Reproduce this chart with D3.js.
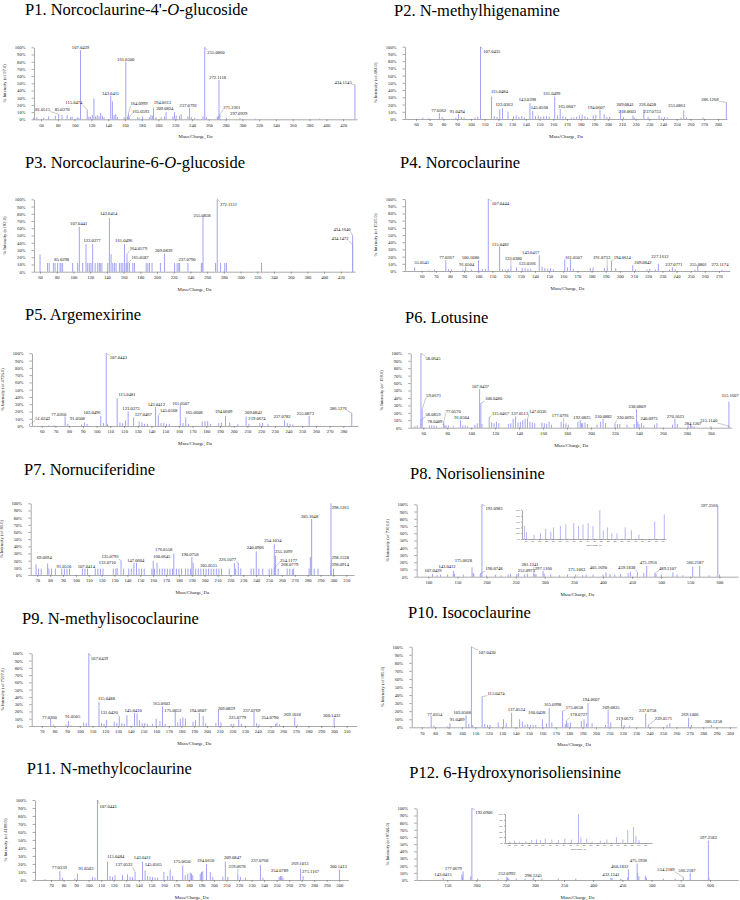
<!DOCTYPE html>
<html><head><meta charset="utf-8">
<script src="https://cdn.jsdelivr.net/npm/d3@7"></script>
<style>body{margin:0;background:#fff}</style>
</head><body>
<svg id="c" width="740" height="900"></svg>
<script>
// ---------------- DATA ----------------
const titles = [
  "P1. Norcoclaurine-4'-<i>O</i>-glucoside", "P2. N-methylhigenamine",
  "P3. Norcoclaurine-6-<i>O</i>-glucoside", "P4. Norcoclaurine",
  "P5. Argemexirine", "P6. Lotusine",
  "P7. Nornuciferidine", "P8. Norisoliensinine",
  "P9. N-methylisococlaurine", "P10. Isococlaurine",
  "P11. N-methylcoclaurine", "P12. 6-Hydroxynorisoliensinine"
];
const yTitles = [
  "% Intensity (of 97.0)", "% Intensity (of 484.0)", "% Intensity (of 82.0)", "% Intensity (of 1515.0)",
  "% Intensity (of 4726.0)", "% Intensity (of 158.0)", "% Intensity (of 81.0)", "% Intensity (of 7301.0)",
  "% Intensity (of 7597.0)", "% Intensity (of 985.0)", "% Intensity (of 4188.0)", "% Intensity (of 8566.0)"
];
const xTitle = "Mass/Charge, Da";
const yTickValues = [0,10,20,30,40,50,60,70,80,90,100];

const domains = [
  [51.6,436.6],[52,286.6],[52.8,437],[48.2,277.8],[52.9,290.7],[49.5,317.5],
  [64.9,316],[80,632],[62.1,317.9],[62.5,305],[57.2,307.2],[97.6,648.5]
];
const xTicks = [
  [60,80,100,120,140,160,180,200,220,240,260,280,300,320,340,360,380,400,420],
  [60,70,80,90,100,110,120,130,140,150,160,170,180,190,200,210,220,230,240,250,260,270,280],
  [60,80,100,120,140,160,180,200,220,240,260,280,300,320,340,360,380,400,420],
  [60,70,80,90,100,110,120,130,140,150,160,170,180,190,200,210,220,230,240,250,260,270],
  [60,70,80,90,100,110,120,130,140,150,160,170,180,190,200,210,220,230,240,250,260,270,280],
  [60,80,100,120,140,160,180,200,220,240,260,280,300],
  [70,80,90,100,110,120,130,140,150,160,170,180,190,200,210,220,230,240,250,260,270,280,290,300,310],
  [100,150,200,250,300,350,400,450,500,550,600],
  [70,80,90,100,110,120,130,140,150,160,170,180,190,200,210,220,230,240,250,260,270,280,290,300,310],
  [70,80,90,100,110,120,130,140,150,160,170,180,190,200,210,220,230,240,250,260,270,280,290,300],
  [70,80,90,100,110,120,130,140,150,160,170,180,190,200,210,220,230,240,250,260,270,280,290,300],
  [150,200,250,300,350,400,450,500,550,600]
];

// peaks: [m/z, % intensity]
const p1Peaks = [[51.0,2],[55.05,3],[63.02,2],[69.03,4],[77.04,5],[81.05,7],[85.03,6],[91.05,6],[95.05,3],[97.03,4],[103.05,3],[105.07,2],[107.04,96],[115.05,13],[117.07,4],[119.05,3],[121.07,6],[123.04,29],[125.06,4],[127.04,6],[129.07,4],[131.05,9],[133.06,5],[135.04,3],[143.04,33],[145.06,25],[147.04,6],[149.06,7],[151.04,3],[159.03,3],[161.05,80],[163.04,4],[164.10,8],[165.06,3],[175.08,3],[177.05,2],[181.07,4],[189.08,3],[191.07,6],[193.05,5],[194.06,16],[197.08,3],[203.06,3],[207.07,4],[209.08,10],[217.07,4],[219.07,10],[221.08,5],[225.06,5],[227.07,7],[235.06,4],[237.08,16],[239.09,3],[243.1,2],[253.07,4],[255.09,100],[257.1,3],[270.1,4],[271.24,3],[272.11,55],[273.12,6],[281.1,2],[297.09,2],[315.1,1],[392.2,1],[434.15,48]];
const p1Labels = [["81.0515",62,13.9],["85.0270",85.1,13],["107.0439",107,100],["115.0474",99.1,23.6],["143.0411",142.9,36],["161.0500",160.9,83],["164.0999",176.8,21.3],["165.0593",178.8,11.1],["194.0613",204.7,23],["209.0824",207.5,14.8],["237.0792",235.4,19.4],["255.0860",268.5,93],["272.1118",270.5,57.9],["271.2361",287.3,16.7],["297.0929",295.6,8.3],["434.1545",420,51.4]];

const p2Peaks = [[65.04,2],[69.03,1],[77.04,8],[79.05,3],[89.04,2],[91.05,7],[93.07,3],[95.05,2],[103.05,2],[105.07,3],[107.04,100],[115.05,31],[117.06,4],[119.05,3],[121.06,13],[123.04,15],[127.04,10],[131.05,4],[133.06,5],[135.04,3],[137.06,4],[139.05,2],[143.04,22],[145.06,11],[147.04,4],[149.06,5],[151.04,3],[153.07,4],[155.05,4],[157.06,3],[161.05,31],[163.04,5],[165.06,14],[167.07,4],[169.06,3],[173.06,2],[175.08,2],[177.05,3],[179.07,5],[181.07,6],[183.08,4],[185.06,2],[189.08,5],[191.07,6],[194.06,13],[197.08,7],[199.08,3],[201.09,3],[209.08,12],[211.08,3],[218.06,5],[219.08,2],[226.05,13],[229.09,3],[237.08,5],[239.09,2],[241.09,3],[243.1,2],[253.09,2],[255.09,12],[257.1,2],[269.1,2],[286.13,23]];
const p2Labels = [["77.0362",76.5,12.4],["91.0494",90.1,10.6],["107.0435",115.2,93],["115.0484",120.8,38.7],["123.0363",124.2,20.7],["143.0398",141.2,27.2],["145.0568",149.9,16.1],["161.0499",158.9,34.6],["165.0607",169.9,17],["194.0607",191.3,16.1],["209.0841",212.4,19.4],["218.0603",213.9,11],["226.0458",228.7,20.3],["237.0753",232.1,11],["255.0861",250.1,18],["286.1268",274.1,27.6]];

const p3Peaks = [[60.02,24],[69.03,12],[71.05,12],[76.03,12],[78.05,12],[81.03,12],[84.04,12],[85.03,12],[87.04,12],[99.04,12],[105.04,12],[107.04,62],[111.04,12],[115.05,38],[117.06,12],[119.05,12],[121.06,12],[123.04,38],[126.05,12],[129.06,12],[131.05,12],[132.05,12],[134.06,12],[141.05,12],[143.04,74],[145.06,24],[147.04,12],[149.06,12],[151.04,12],[155.05,12],[157.06,12],[159.04,12],[161.05,38],[163.04,12],[164.06,24],[165.06,12],[167.07,12],[171.05,12],[173.06,12],[187.07,12],[189.08,12],[191.07,12],[194.06,12],[204.08,12],[209.08,25],[221.08,12],[224.07,12],[226.08,12],[227.09,12],[237.08,12],[253.09,12],[254.09,12],[255.09,76],[270.1,12],[272.11,100],[276.1,12],[281.1,12],[283.1,12],[325.1,12],[434.15,37],[434.16,50]];
const p3Labels = [["85.0298",85.9,17.5],["107.0441",106.3,65.9],["123.0377",122.3,42.9],["143.0414",142.2,79.7],["161.0496",160.2,42.9],["164.0579",177.7,32.3],["165.0587",179.7,19.8],["209.0839",208,29],["237.0790",236,17.5],["255.0858",253.9,78.3],["272.1131",285.5,93.5],["434.1640",421.5,58.5],["434.1472",419.1,46]];

const p4Peaks = [[55.05,5],[65.04,1],[69.03,2],[77.04,15],[79.05,3],[81.03,2],[89.04,2],[91.05,6],[95.05,2],[100.11,15],[103.05,3],[105.07,3],[107.04,100],[115.05,34],[117.06,2],[119.05,2],[121.06,3],[123.04,7],[127.04,5],[131.05,4],[133.06,4],[135.04,3],[137.06,3],[143.04,22],[145.06,6],[147.04,4],[149.06,3],[151.04,4],[153.07,2],[161.05,16],[163.04,5],[165.06,16],[167.07,3],[179.07,4],[181.07,5],[189.08,4],[191.07,5],[194.06,14],[197.08,4],[209.08,8],[211.08,2],[219.08,2],[221.08,3],[225.06,2],[227.16,10],[235.06,2],[237.08,5],[239.09,2],[253.09,2],[255.08,7],[272.12,2]];
const p4Labels = [["55.0541",60,11.6],["77.0367",77.7,19],["91.0504",91.8,9.7],["100.1080",94.4,19],["107.0444",115.6,94],["115.0482",115.6,37.5],["123.0380",124.7,18],["133.0566",134.6,10.6],["143.0417",137,25.5],["161.0507",167.3,19],["191.0733",187.1,19],["194.0614",201.7,19],["209.0842",216.3,11.6],["227.1612",228.3,19.9],["237.0771",238.2,9.7],["255.0801",255.4,9.7],["272.1174",270.7,9.7]];

const p5Peaks = [[51.02,2],[65.04,1],[69.03,1],[77.04,13],[79.05,3],[89.04,2],[91.05,5],[93.07,3],[103.05,14],[105.07,4],[107.04,100],[108.05,3],[115.05,38],[117.06,5],[119.05,4],[121.06,8],[123.04,20],[127.05,12],[131.05,6],[133.06,5],[135.04,3],[137.06,3],[143.04,26],[145.06,14],[147.04,4],[149.06,4],[151.04,3],[153.07,3],[161.05,29],[163.04,4],[165.06,12],[167.07,3],[177.05,6],[179.07,7],[181.07,7],[183.08,3],[189.08,4],[191.07,5],[194.06,14],[197.08,5],[203.06,3],[209.08,13],[211.08,3],[219.07,4],[221.08,4],[225.06,3],[237.08,8],[239.09,4],[241.09,3],[243.1,2],[255.09,14],[286.13,18]];
const p5Labels = [["51.0242",60.7,10.6],["77.0360",72.4,16.5],["91.0508",86,10.6],["103.0496",96.7,18.3],["107.0443",115.9,94],["115.0481",122.2,42.7],["123.0373",125.1,24.3],["127.0467",134.1,16.5],["143.0412",143.6,29.8],["145.0568",152.6,21.1],["161.0507",161.4,31.2],["165.0608",171.1,18.8],["194.0609",192.7,20.6],["209.0842",214.4,18.8],["219.0674",217,10.6],["237.0782",235.3,12.8],["255.0873",252.3,17.4],["286.1276",276.3,24.3]];

const p6Peaks = [[53.04,2],[55.05,3],[58.06,100],[58.09,10],[59.07,25],[65.04,3],[67.05,3],[69.03,3],[71.05,2],[77.06,8],[78.04,3],[79.05,3],[81.03,3],[85.03,2],[91.05,10],[93.07,3],[95.05,3],[97.03,2],[103.05,4],[105.07,6],[107.04,52],[108.05,33],[109.05,5],[115.05,14],[117.06,7],[119.05,6],[121.06,8],[123.04,6],[131.05,5],[133.06,6],[135.04,12],[137.05,15],[139.05,7],[141.05,8],[143.04,10],[145.06,12],[147.03,12],[149.06,8],[151.04,7],[153.07,6],[159.04,7],[161.05,6],[163.04,5],[165.06,8],[167.07,4],[175.08,8],[177.08,5],[179.07,6],[181.07,4],[189.08,8],[191.07,10],[192.08,6],[193.05,6],[195.07,7],[197.08,5],[205.07,4],[208.08,8],[210.09,12],[212.09,6],[220.07,6],[222.08,5],[224.07,5],[230.09,4],[236.08,5],[238.08,25],[239.09,8],[240.1,5],[242.09,6],[244.1,3],[253.09,4],[255.09,6],[268.1,4],[270.1,12],[272.1,5],[281.1,3],[283.1,4],[284.12,3],[286.1,2],[300.1,2],[315.11,2],[315.16,35]];
const p6Labels = [["58.0645",68.1,93.3],["59.0671",68.6,43.9],["58.0859",68.1,17.9],["78.0409",69.7,8],["77.0570",85,22.4],["91.0504",92,13.9],["107.0437",107.6,55.2],["108.0480",118.7,38.6],["115.0467",124.4,19.3],["137.0513",140.4,19.3],["147.0336",155.6,21.5],["177.0791",174.4,16.1],["192.0825",192.5,13.9],["210.0882",210.3,15.2],["220.0695",228.7,13.5],["238.0809",238.5,28.3],["240.0973",248.5,13],["270.1023",270.5,15.7],["284.1207",285.2,5.8],["315.1607",316.1,43],["315.1140",298.3,9.4]];

const p7Peaks = [[69.07,15],[71.05,9],[73.06,9],[78.05,16],[79.05,9],[81.07,9],[84.04,9],[89.04,9],[91.05,9],[93.07,9],[95.05,9],[105.07,9],[107.04,9],[109.05,9],[115.05,9],[117.06,9],[119.05,9],[121.06,9],[129.06,9],[131.05,9],[132.07,10],[135.08,20],[137.06,9],[141.05,9],[143.04,9],[145.06,17],[147.06,17],[149.06,9],[151.04,9],[153.07,9],[159.04,9],[160.06,20],[161.05,9],[163.04,17],[165.06,9],[167.07,9],[169.06,9],[171.05,9],[173.06,9],[175.08,9],[176.06,30],[178.07,9],[180.06,9],[182.08,9],[185.06,9],[187.07,9],[189.08,9],[190.08,25],[191.07,17],[193.05,9],[195.07,9],[197.08,9],[199.08,9],[201.09,9],[203.06,9],[205.05,9],[207.07,9],[209.08,9],[211.08,9],[213.09,9],[219.08,9],[223.08,17],[224.07,9],[226.11,17],[228.1,9],[236.08,9],[238.09,9],[240.09,33],[242.09,9],[245.1,9],[250.1,9],[252.1,9],[254.1,43],[254.12,10],[255.11,27],[257.1,9],[264.1,9],[266.1,9],[268.08,8],[269.1,9],[281.1,9],[282.1,25],[283.1,78],[285.1,9],[288.1,9],[298.09,5],[298.13,100],[298.15,10],[300.1,9]];
const p7Labels = [["69.0694",75.4,24.7],["91.0510",90.7,11.6],["107.0414",108.1,11.6],["132.0710",124.4,17.7],["135.0793",126.5,25.6],["147.0604",146.5,20.9],["160.0645",166.7,25.6],["176.0558",168.2,34.9],["190.0758",188.5,28.8],["205.0515",203.2,12.6],["226.1077",217.7,21.9],["240.0906",239.3,38.1],["254.1034",253,47.9],["255.1099",261.3,32.6],["254.1177",265.2,20.9],["268.0779",266,14],["283.1048",281.5,81.4],["298.1261",305.4,94.4],["298.1528",305.4,24.7],["298.0914",305.4,14.9]];

const p8Peaks = [[107.04,4],[115.05,2],[121.06,3],[133.06,3],[143.04,8],[145.06,4],[160.06,3],[175.06,13],[177.07,5],[178.07,4],[189.08,3],[190.07,5],[192.1,100],[200.1,2],[215.1,3],[225.1,2],[237.1,3],[241.1,4],[252.1,4],[255.1,5],[265.1,3],[270.1,4],[281.12,5],[283.1,4],[285.1,3],[297.12,8],[299.1,4],[310.1,3],[325.1,2],[339.1,3],[353.1,3],[365.1,2],[371.11,3],[383.1,3],[400.1,3],[405.17,6],[412.2,4],[420.2,3],[430.2,4],[443.2,5],[447.2,7],[459.18,6],[470.2,5],[475.2,15],[489.21,5],[491.2,4],[500.2,3],[520.2,6],[527.2,3],[537.2,2],[554.2,14],[566.22,15],[582.2,2],[597.26,97],[600.3,3]];
const p8Labels = [["107.0429",108,8.3],["143.0412",132.1,13.8],["175.0628",160.1,21.7],["192.0983",212.8,94.5],["190.0748",212.8,11],["252.0973",268.4,9.2],["281.1241",274.7,17],["297.1160",297.6,11.5],["371.1063",354.9,10.1],["405.1690",392.1,12.9],["459.1838",440.8,12.9],["475.1956",478,19.8],["489.2107",511.2,12],["566.2187",558.2,20.3],["597.2566",582.8,98.2]];

const p9Peaks = [[77.04,10],[79.05,2],[89.04,2],[91.05,7],[93.07,1],[103.05,5],[105.07,4],[107.04,100],[115.05,33],[117.06,4],[119.05,3],[121.06,8],[127.04,6],[129.06,4],[131.04,13],[133.06,4],[135.04,3],[137.06,15],[143.04,18],[145.04,17],[147.04,8],[149.06,4],[151.04,4],[153.07,3],[157.06,3],[160.05,10],[163.04,7],[165.06,27],[167.07,3],[175.07,20],[177.05,5],[179.07,10],[181.07,12],[183.08,10],[189.08,6],[191.07,8],[194.06,18],[197.08,14],[199.08,4],[207.07,4],[209.08,22],[211.08,5],[219.08,3],[221.08,3],[225.08,9],[227.09,3],[237.08,20],[239.09,4],[241.09,2],[254.08,3],[255.09,4],[257.1,2],[269.1,12],[271.1,2],[300.14,11]];
const p9Labels = [["77.0360",76,11.9],["91.0505",94.4,12.8],["107.0439",115.4,93],["115.0488",120.9,37.2],["131.0420",123,18.8],["145.0410",141.9,22],["165.0603",164.2,30.3],["175.0652",173.3,22],["194.0607",193,22],["209.0839",215.3,24.3],["225.0779",224,11.9],["237.0769",235.2,22],["254.0790",249.7,11.9],["269.1018",267.2,16.5],["300.1432",298.2,15.1]];

const p10Peaks = [[77.04,14],[79.05,2],[89.04,1],[91.05,5],[103.05,15],[105.07,4],[107.04,100],[108.05,3],[115.05,38],[117.06,4],[119.05,3],[121.06,3],[127.04,6],[131.05,10],[133.06,5],[137.05,18],[143.04,10],[145.06,7],[147.04,3],[149.06,4],[151.04,3],[153.07,3],[155.05,3],[160.04,10],[163.04,5],[165.1,24],[167.07,6],[175.07,20],[177.05,4],[178.07,8],[179.07,5],[181.07,6],[189.08,8],[191.07,10],[193.05,5],[194.06,30],[197.08,5],[207.07,3],[209.08,22],[211.08,6],[219.07,9],[221.08,3],[225.06,2],[237.08,17],[239.06,3],[253.09,3],[255.09,5],[269.1,12],[271.1,3],[286.13,3]];
const p10Labels = [["77.0354",79.7,16.5],["91.0489",96.4,9.1],["103.0508",100.1,18.6],["107.0430",118.7,92.6],["115.0474",125.4,42.1],["137.0524",140.6,21.5],["160.0428",155.8,18.2],["165.0998",167.7,27.7],["175.0658",183.9,24.4],["178.0727",187.1,15.3],["194.0607",196.3,33.9],["209.0835",211.2,24.4],["219.0673",221.4,11.2],["237.0758",238.6,20.7],["239.0571",250.3,11.2],["269.1006",270.1,16.1],["286.1258",287.6,7]];

const p11Peaks = [[65.04,1],[77.04,11],[79.05,3],[89.04,2],[91.05,8],[103.05,4],[105.07,3],[107.04,100],[115.05,23],[117.06,5],[119.05,4],[121.06,6],[127.04,6],[131.05,7],[133.06,4],[135.04,4],[137.05,10],[143.04,23],[145.06,12],[147.04,5],[149.06,4],[151.04,4],[153.07,3],[155.05,3],[160.05,10],[163.04,5],[165.06,13],[167.07,5],[175.07,18],[177.05,6],[179.07,8],[181.07,9],[182.08,8],[183.08,6],[189.08,8],[190.08,10],[191.07,11],[194.06,20],[197.08,10],[199.08,4],[207.07,4],[209.08,23],[211.08,4],[219.07,7],[221.08,4],[225.06,3],[237.08,19],[239.09,3],[252.1,4],[253.09,5],[254.08,5],[255.09,3],[269.1,14],[271.12,5],[300.14,13]];
const p11Labels = [["77.0359",76.6,15.8],["91.0503",97.9,14.6],["107.0443",115.5,92.5],["115.0484",121.6,30],["137.0522",128.2,18.8],["143.0411",142.9,27.9],["145.0565",151.6,18.8],["175.0650",174.5,22.9],["194.0610",193.4,25],["209.0847",214.9,28.3],["219.0678",218.4,16.7],["237.0768",236.4,23.8],["254.0789",252.4,11.7],["269.1013",268.6,20.8],["271.1167",277.1,10.4],["300.1413",299.2,16.7]];

const p12Peaks = [[143.04,3],[175.07,8],[176.07,4],[177.07,12],[190.08,5],[192.09,100],[202.1,2],[237.1,2],[252.1,5],[253.1,3],[255.1,2],[268.1,2],[283.1,2],[297.1,2],[298.12,3],[312.1,2],[340.1,2],[370.1,2],[430.2,3],[432.15,3],[447.2,2],[459.2,4],[460.18,15],[475.19,23],[476.2,10],[478.2,5],[489.2,6],[491.2,3],[520.2,2],[540.2,2],[554.22,4],[566.22,10],[597.26,55],[598.3,3]];
const p12Labels = [["143.0415",142.6,7],["177.0679",160.3,16.3],["192.0906",212.8,94.4],["252.0992",252.2,9.3],["298.1245",297.3,5.6],["432.1541",430.4,7],["460.1832",445.3,18.6],["475.1938",477.2,27],["554.2189",524.6,14.9],["566.2187",560.6,12.6],["597.2582",597.2,59.5]];

// insets (enlarged views, relative %)
const p8InsetDomain = [170,590];
const p8InsetTicks = [180,200,220,240,260,280,300,320,340,360,380,400,420,440,460,480,500,520,540,560,580];
const p8InsetPeaks = [[177,45],[183,25],[205,15],[224,20],[239,35],[254,25],[262,40],[282,45],[298,50],[321,55],[335,45],[348,50],[363,55],[377,45],[397,100],[407,30],[419,40],[432,20],[447,20],[471,40],[489,30],[511,15],[557,60],[585,85]];
const p12InsetDomain = [170,600];
const p12InsetTicks = [180,200,220,240,260,280,300,320,340,360,380,400,420,440,460,480,500,520,540,560,580];
const p12InsetPeaks = [[184,5],[198,8],[213,5],[231,6],[248,10],[262,12],[274,10],[288,15],[307,12],[326,10],[345,15],[364,12],[385,100],[392,20],[409,15],[425,5],[449,8],[468,12],[496,20],[515,12],[529,45],[546,55],[553,25],[562,10]];

const peaksAll = [p1Peaks,p2Peaks,p3Peaks,p4Peaks,p5Peaks,p6Peaks,p7Peaks,p8Peaks,p9Peaks,p10Peaks,p11Peaks,p12Peaks];
const labelsAll = [p1Labels,p2Labels,p3Labels,p4Labels,p5Labels,p6Labels,p7Labels,p8Labels,p9Labels,p10Labels,p11Labels,p12Labels];

// ---------------- LAYOUT ----------------
const layout = [
  {l:34,r:357,t:47.3,b:119.3,tx:25,ty:14.5},
  {l:405,r:727,t:46.7,b:119,tx:394,ty:16},
  {l:34,r:355,t:199.3,b:271.7,tx:25,ty:167.7},
  {l:405,r:730,t:199,b:271,tx:400,ty:168},
  {l:32,r:358,t:353.3,b:426,tx:25,ty:320},
  {l:410.7,r:731.7,t:353.3,b:427.7,tx:405,ty:323},
  {l:30.7,r:354,t:503.3,b:575,tx:24,ty:475},
  {l:416.7,r:738,t:504.3,b:576.7,tx:410,ty:478.7},
  {l:31.7,r:356.7,t:653.3,b:726,tx:22,ty:623.7},
  {l:411.7,r:736.7,t:646.7,b:727.3,tx:408,ty:618},
  {l:35,r:348.3,t:800,b:880,tx:26.7,ty:773.5},
  {l:416.7,r:738.3,t:808.3,b:880,tx:409.3,ty:778}
];
const insetLayout = {
  7: {l:522,r:666,t:510,b:539},
  11: {l:505,r:652,t:814,b:843}
};

const FONT = '"Liberation Serif","Times New Roman",Times,serif';
const BAR = '#a2a2f4';
const AX = '#555';
const svg = d3.select('#c');
svg.append('rect').attr('width',740).attr('height',900).attr('fill','#fff');

function styleAxis(a, fs){
  a.selectAll('text').attr('font-family',FONT).attr('font-size',fs).attr('fill','#222');
  a.selectAll('path,line').attr('stroke',AX).attr('stroke-width',0.5);
}

function drawPanel(i){
  const L = layout[i];
  const g = svg.append('g');
  const x = d3.scaleLinear().domain(domains[i]).range([L.l, L.r]);
  const y = d3.scaleLinear().domain([0,100]).range([L.b, L.t]);

  // title
  const t = g.append('text').attr('x',L.tx).attr('y',L.ty)
    .attr('font-family',FONT).attr('font-size',16.5).attr('fill','#000');
  titles[i].split(/(<i>.*?<\/i>)/).forEach(s=>{
    if(!s) return;
    const it = s.startsWith('<i>');
    t.append('tspan').attr('font-style', it?'italic':null).text(it ? s.slice(3,-4) : s);
  });

  // peaks
  g.append('g').selectAll('line').data(peaksAll[i]).join('line')
    .attr('x1',d=>x(d[0])).attr('x2',d=>x(d[0]))
    .attr('y1',y(0)).attr('y2',d=>y(d[1]))
    .attr('stroke',BAR).attr('stroke-width',1);

  // axes
  const ax = g.append('g').attr('transform',`translate(0,${L.b})`)
    .call(d3.axisBottom(x).tickValues(xTicks[i]).tickSize(2).tickSizeOuter(0).tickPadding(2).tickFormat(d3.format('d')));
  styleAxis(ax,4.6);
  const ay = g.append('g').attr('transform',`translate(${L.l},0)`)
    .call(d3.axisLeft(y).tickValues(yTickValues).tickSize(2.5).tickSizeOuter(0).tickPadding(6).tickFormat(d=>d+'%'));
  styleAxis(ay,4.6);

  g.append('text').attr('x',(L.l+L.r)/2).attr('y',L.b+19)
    .attr('text-anchor','middle').attr('font-family',FONT).attr('font-size',4.9).attr('fill','#222').text(xTitle);
  g.append('text').attr('transform',`translate(${L.l-28},${(L.t+L.b)/2}) rotate(-90)`)
    .attr('text-anchor','middle').attr('font-family',FONT).attr('font-size',4.6).attr('fill','#222').text(yTitles[i]);

  // peak labels with leader lines
  const lg = g.append('g');
  labelsAll[i].forEach(([txt,lx,ly])=>{
    const pm = +txt;
    const pk = peaksAll[i].reduce((a,b)=>Math.abs(b[0]-pm)<Math.abs(a[0]-pm)?b:a);
    const cxl = x(lx), cyl = y(ly);
    const te = lg.append('text').attr('x',cxl).attr('y',cyl)
      .attr('text-anchor','middle').attr('dominant-baseline','central')
      .attr('font-family',FONT).attr('font-size',4.6).attr('fill','#111').text(txt);
    const w = te.node().getComputedTextLength();
    const bx0 = cxl-w/2, bx1 = cxl+w/2, by0 = cyl-2.2, by1 = cyl+2.2;
    const px = x(pk[0]), py = y(pk[1]);
    const inX = px>=bx0-1.5 && px<=bx1+1.5;
    if(inX && (py-by1)<=5) return;
    const qx = Math.max(bx0,Math.min(px,bx1)), qy = Math.max(by0,Math.min(py,by1));
    if(Math.hypot(qx-px,qy-py)<2) return;
    lg.append('line').attr('x1',px).attr('y1',py).attr('x2',qx).attr('y2',qy)
      .attr('stroke','#777').attr('stroke-width',0.4);
  });

  // inset
  if(insetLayout[i]){
    const I = insetLayout[i];
    const dom = i===7 ? p8InsetDomain : p12InsetDomain;
    const tk = i===7 ? p8InsetTicks : p12InsetTicks;
    const pk = i===7 ? p8InsetPeaks : p12InsetPeaks;
    const xi = d3.scaleLinear().domain(dom).range([I.l,I.r]);
    const yi = d3.scaleLinear().domain([0,100]).range([I.b,I.t]);
    const ig = g.append('g');
    ig.append('g').selectAll('line').data(pk).join('line')
      .attr('x1',d=>xi(d[0])).attr('x2',d=>xi(d[0])).attr('y1',yi(0)).attr('y2',d=>yi(d[1]))
      .attr('stroke',BAR).attr('stroke-width',0.8);
    const iax = ig.append('g').attr('transform',`translate(0,${I.b})`)
      .call(d3.axisBottom(xi).tickValues(tk).tickSize(1).tickSizeOuter(0).tickPadding(1).tickFormat(d3.format('d')));
    styleAxis(iax,2);
    const iay = ig.append('g').attr('transform',`translate(${I.l},0)`)
      .call(d3.axisLeft(yi).tickValues([0,20,40,60,80,100]).tickSize(1).tickSizeOuter(0).tickPadding(1).tickFormat(d=>d+'%'));
    styleAxis(iay,2);
    ig.append('text').attr('x',(I.l+I.r)/2).attr('y',I.b+7).attr('text-anchor','middle')
      .attr('font-family',FONT).attr('font-size',2.2).attr('fill','#222').text(xTitle);
  }
}

for(let i=0;i<12;i++) drawPanel(i);
</script>
</body></html>
